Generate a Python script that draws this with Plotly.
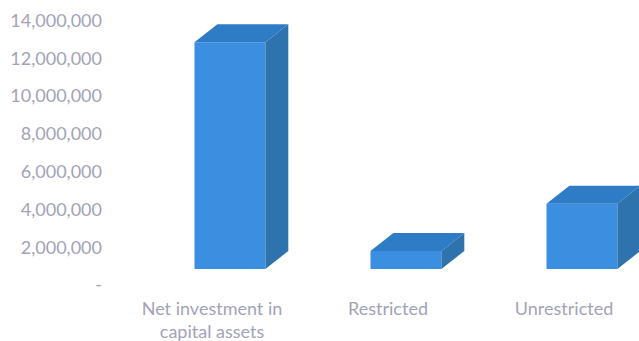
import plotly.graph_objects as go

# Net position components
categories = ["Net investment in<br>capital assets", "Restricted", "Unrestricted"]
values = [12000000, 950000, 3450000]
y_ticks = [0, 2000000, 4000000, 6000000, 8000000, 10000000, 12000000, 14000000]
y_labels = ["-", "2,000,000", "4,000,000", "6,000,000", "8,000,000",
            "10,000,000", "12,000,000", "14,000,000"]

# Pseudo-3D box settings, in axis units
FLOOR = 850000
BAR_WIDTH = 0.403
BAR_SHIFT = 0.102
DEPTH_X = 0.13
DEPTH_Y = 950000

FRONT = "#3C8FE0"
TOP = "#2F7CC6"
SIDE = "#2E72AE"
TEXT = "#A3A3B8"
FONT = "Lato, 'Open Sans', sans-serif"

positions = list(range(len(categories)))
fig = go.Figure()

# Front faces
fig.add_trace(go.Bar(
    x=[p + BAR_SHIFT for p in positions],
    y=values,
    base=[FLOOR] * len(values),
    width=BAR_WIDTH,
    marker=dict(color=FRONT, line=dict(width=0)),
    hoverinfo="skip",
))

# Top and side faces derived from each value
for p, v in zip(positions, values):
    left = p + BAR_SHIFT - BAR_WIDTH / 2
    right = p + BAR_SHIFT + BAR_WIDTH / 2
    top = FLOOR + v
    fig.add_trace(go.Scatter(
        x=[left, right, right + DEPTH_X, left + DEPTH_X, left],
        y=[top, top, top + DEPTH_Y, top + DEPTH_Y, top],
        fill="toself", fillcolor=TOP, mode="lines",
        line=dict(width=0), hoverinfo="skip",
    ))
    fig.add_trace(go.Scatter(
        x=[right, right + DEPTH_X, right + DEPTH_X, right, right],
        y=[FLOOR, FLOOR + DEPTH_Y, top + DEPTH_Y, top, FLOOR],
        fill="toself", fillcolor=SIDE, mode="lines",
        line=dict(width=0), hoverinfo="skip",
    ))

fig.update_layout(
    width=639, height=341,
    margin=dict(l=103, r=0, t=5, b=45, autoexpand=False),
    paper_bgcolor="white", plot_bgcolor="white",
    showlegend=False,
    font=dict(family=FONT, size=18, color=TEXT),
)
fig.update_xaxes(
    range=[-0.6193, 2.426], tickmode="array", tickvals=positions, ticktext=categories,
    showgrid=False, zeroline=False, showline=False, ticks="", tickangle=0,
    tickfont=dict(family=FONT, size=18, color=TEXT),
)
fig.update_yaxes(
    range=[-582000, 14815000], tickmode="array", tickvals=y_ticks, ticktext=y_labels,
    showgrid=False, zeroline=False, showline=False, ticks="",
    tickfont=dict(family=FONT, size=18, color=TEXT),
)

fig.write_html("out.html")
